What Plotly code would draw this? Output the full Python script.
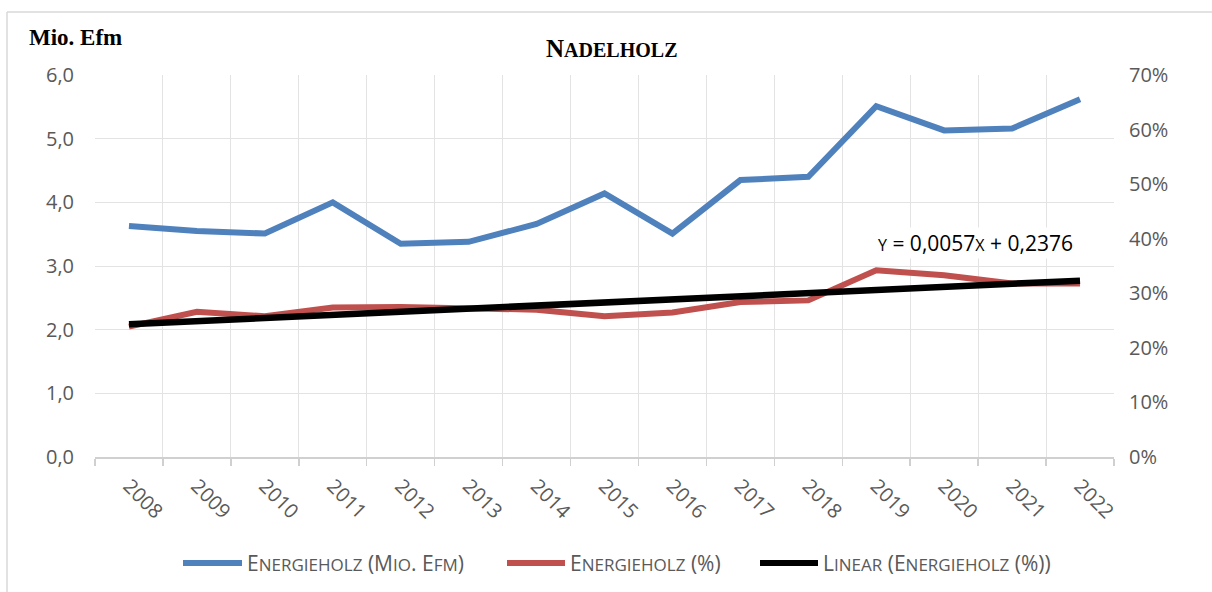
import plotly.graph_objects as go

# ---- data ----
years = ["2008", "2009", "2010", "2011", "2012", "2013", "2014", "2015",
         "2016", "2017", "2018", "2019", "2020", "2021", "2022"]
energieholz_mio = [3.63, 3.55, 3.51, 4.00, 3.35, 3.38, 3.66, 4.14,
                   3.51, 4.35, 4.40, 5.51, 5.13, 5.16, 5.62]
energieholz_pct = [0.239, 0.266, 0.258, 0.274, 0.275, 0.272, 0.270, 0.258,
                   0.265, 0.284, 0.287, 0.342, 0.333, 0.318, 0.318]
trend_slope = 0.0057
trend_intercept = 0.2376
trend_values = [trend_slope * (i + 1) + trend_intercept for i in range(len(years))]

series_names = ["Energieholz (Mio. Efm)", "Energieholz (%)", "Linear (Energieholz (%))"]
series_colors = ["#4f81bd", "#c0504d", "#000000"]

# ---- layout geometry (pixels) ----
W, H = 1212, 592
L, R, T, B = 95, 98, 75, 135
PW, PH = W - L - R, H - T - B


def px(xp):
    return (xp - L) / PW


def py(yp):
    return (H - B - yp) / PH


def smallcaps(text, big, small):
    out = []
    for ch in text:
        if ch.isalpha() and ch.islower():
            out.append(f"<span style='font-size:{small}px'>{ch.upper()}</span>")
        else:
            out.append(f"<span style='font-size:{big}px'>{ch}</span>")
    return "".join(out)


fig = go.Figure()
fig.add_trace(go.Scatter(x=years, y=energieholz_mio, mode="lines", name=series_names[0],
                         line=dict(color=series_colors[0], width=6), yaxis="y"))
fig.add_trace(go.Scatter(x=years, y=energieholz_pct, mode="lines", name=series_names[1],
                         line=dict(color=series_colors[1], width=6), yaxis="y2"))
fig.add_trace(go.Scatter(x=years, y=trend_values, mode="lines", name=series_names[2],
                         line=dict(color=series_colors[2], width=6.5), yaxis="y2"))

tick_font = dict(family="Open Sans", size=20, color="#595959")
grid_col = "#e3e3e3"

fig.update_layout(
    width=W, height=H,
    margin=dict(l=L, r=R, t=T, b=B),
    paper_bgcolor="white", plot_bgcolor="white",
    separators=",.",
    showlegend=False,
    hovermode=False,
    xaxis=dict(type="category", tickson="boundaries", showgrid=True, gridcolor=grid_col,
               gridwidth=1, showline=True, linecolor="#d0d0d0", linewidth=1.5,
               ticks="outside", ticklen=7, tickcolor="#d0d0d0", tickwidth=1.5,
               tickangle=45, tickfont=tick_font, range=[-0.5, 14.5], zeroline=False,
               ticklabelstandoff=8),
    yaxis=dict(range=[0, 6], dtick=1, tickformat=".1f", showgrid=True, gridcolor=grid_col,
               gridwidth=1, zeroline=False, showline=False, tickfont=tick_font,
               ticklabelstandoff=20),
    yaxis2=dict(range=[0, 0.7], dtick=0.1, tickformat=".0%", overlaying="y", side="right",
                showgrid=False, zeroline=False, showline=False, tickfont=tick_font,
                ticklabelstandoff=14),
)

annotations = []
# axis title
annotations.append(dict(x=px(27), y=py(37), xref="paper", yref="paper", xanchor="left",
                        yanchor="middle", showarrow=False, text="<b>Mio. Efm</b>",
                        font=dict(family="Liberation Serif", size=23, color="#000000")))
# chart title
annotations.append(dict(x=px(611), y=py(49), xref="paper", yref="paper", xanchor="center",
                        yanchor="middle", showarrow=False,
                        text="<b>" + smallcaps("Nadelholz", 25, 20) + "</b>",
                        font=dict(family="Liberation Serif", size=25, color="#000000")))
# trend equation
eq = (smallcaps("y", 21, 16) + " = 0,0057" + smallcaps("x", 21, 16) + " + 0,2376")
annotations.append(dict(x=px(876), y=py(243), xref="paper", yref="paper", xanchor="left",
                        yanchor="middle", showarrow=False, text=eq, bgcolor="white",
                        font=dict(family="Open Sans", size=21, color="#000000")))

# manual legend
legend_items = [(183, 242, 245), (507, 565, 568), (760, 818, 821)]
shapes = []
leg_y = 563
for (x0, x1, xt), name, col in zip(legend_items, series_names, series_colors):
    shapes.append(dict(type="line", xref="paper", yref="paper", x0=px(x0), x1=px(x1),
                       y0=py(leg_y), y1=py(leg_y), line=dict(color=col, width=6)))
    annotations.append(dict(x=px(xt), y=py(leg_y), xref="paper", yref="paper",
                            xanchor="left", yanchor="middle", showarrow=False,
                            text=smallcaps(name, 21, 17),
                            font=dict(family="Open Sans", size=21, color="#595959")))

# chart-area border (top & left visible)
shapes.append(dict(type="line", xref="paper", yref="paper", x0=px(7), x1=px(W + 5),
                   y0=py(12), y1=py(12), line=dict(color="#d9d9d9", width=1.5)))
shapes.append(dict(type="line", xref="paper", yref="paper", x0=px(7), x1=px(7),
                   y0=py(12), y1=py(H + 5), line=dict(color="#d9d9d9", width=1.5)))

fig.update_layout(annotations=annotations, shapes=shapes)

fig.write_html("out.html",
               config={"displayModeBar": False, "staticPlot": True},
               post_script="document.body.style.margin='0';document.body.style.overflow='hidden';")
